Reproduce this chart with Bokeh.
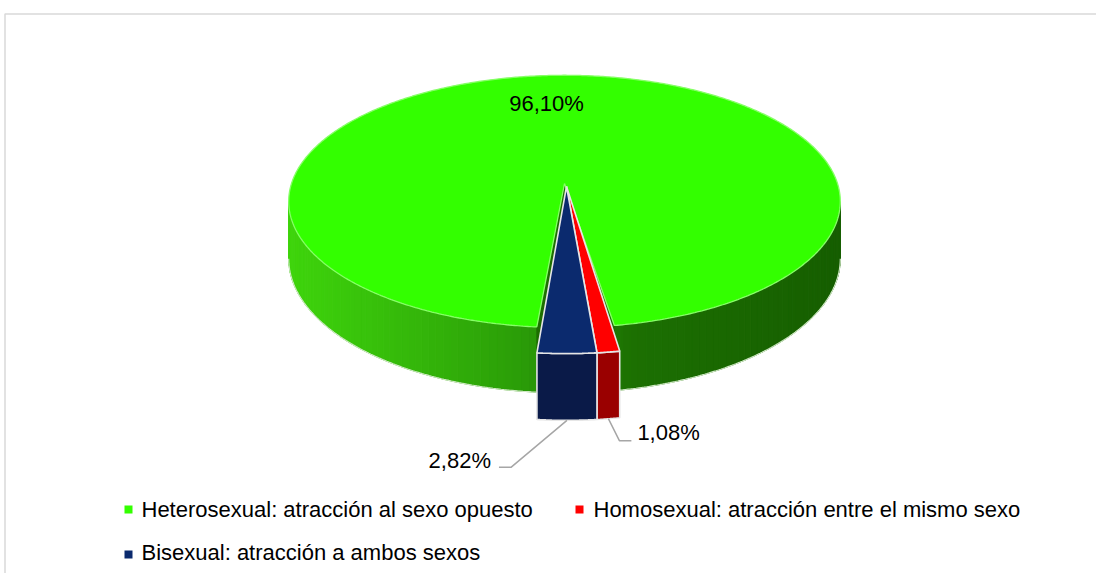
import numpy as np
from bokeh.plotting import figure
from bokeh.models import Range1d
from bokeh.core.properties import value
from bokeh.embed import file_html
from bokeh.resources import INLINE

# ---------------- data ----------------
categories = ["Heterosexual: atracción al sexo opuesto",
              "Homosexual: atracción entre el mismo sexo",
              "Bisexual: atracción a ambos sexos"]
values = [96.10, 1.08, 2.82]
labels = ["96,10%", "1,08%", "2,82%"]
top_colors = ["#33ff00", "#ff0000", "#0b2a6e"]
front_colors = ["#2a9a08", "#9a0000", "#0a1a48"]

FONT = "Liberation Sans"
FS = "22px"

# ---------------- figure ----------------
p = figure(width=1096, height=573, x_range=Range1d(0, 1096), y_range=Range1d(573, 0),
           output_backend="svg", toolbar_location=None, min_border=0)
p.axis.visible = False
p.grid.visible = False
p.outline_line_color = None
p.background_fill_color = "white"
p.border_fill_color = "white"

# chart area border
p.line(x=[4.5, 4.5, 1096], y=[573, 13.5, 13.5], line_color="#d9d9d9", line_width=1.5)

# ---------------- 3D pie projection ----------------
CX, CY = 564.0, 183.0
SX, SY = 273.0, 123.6
K = 0.142
DEPTH = 56.0
START = 185.0          # clockwise angle (deg, from 12 o'clock) where first slice starts
RHO, RHOX, EDX, EDY = 1.134, 0.92, 2.0, 3.0   # small-slice pull-out


def proj(r, th_deg, h, rho=1.0, rx=1.0, dx=0.0, dy=0.0):
    th = np.radians(th_deg)
    x = rho * r * np.sin(th)
    z = -rho * r * np.cos(th)
    s = 1.0 / (1.0 - K * z)
    return CX + SX * x * s * rx + dx, CY + (SY * z + DEPTH * h) * s + dy


def arc(a0, a1, h, **kw):
    n = max(2, int(abs(a1 - a0) / 0.5) + 1)
    th = np.linspace(a0, a1, n)
    return proj(1.0, th, h, **kw)


total = sum(values)
spans = [v / total * 360.0 for v in values]
starts = [START + sum(spans[:i]) for i in range(len(values))]
ends = [starts[i] + spans[i] for i in range(len(values))]

VIS0, VIS1 = 98.2, 261.8   # visible part of the outer wall


def side_color(t):
    stops = [(0.0, (62, 212, 12)), (0.40, (44, 160, 8)), (0.52, (36, 138, 6)),
             (0.62, (28, 112, 2)), (1.0, (22, 94, 0))]
    for (t0, c0), (t1, c1) in zip(stops[:-1], stops[1:]):
        if t <= t1:
            f = max(0.0, (t - t0) / (t1 - t0))
            c = [int(round(c0[j] + f * (c1[j] - c0[j]))) for j in range(3)]
            return "#%02x%02x%02x" % tuple(c)
    return "#%02x%02x%02x" % stops[-1][1]


# green outer wall (visible portions), shaded by position
g0 = starts[0] % 360
g1 = ends[0] % 360
segs = [(VIS0, min(g1, VIS1)), (max(g0, VIS0), VIS1)]
xs, ys, cols = [], [], []
for a0, a1 in segs:
    n = int((a1 - a0) / 1.5) + 1
    edges = np.linspace(a0, a1, n + 1)
    for b0, b1 in zip(edges[:-1], edges[1:]):
        tx, ty = arc(b0, b1, 0)
        bx, by = arc(b1, b0, 1)
        xs.append(list(tx) + list(bx))
        ys.append(list(ty) + list(by))
        mx, _ = proj(1.0, (b0 + b1) / 2, 0)
        cols.append(side_color((mx - (CX - SX)) / (2 * SX)))
p.patches(xs, ys, fill_color=cols, line_color=cols, line_width=1)
# lower rim
for a0, a1 in segs:
    bx, by = arc(a0, a1, 1)
    p.line(bx, by, line_color="#cfe8c4", line_width=1.2)

# green notch walls
for ang in (g0, g1):
    ex0, ey0 = proj(1.0, ang, 0)
    ex1, ey1 = proj(1.0, ang, 1)
    c0x, c0y = proj(0.0, ang, 0)
    c1x, c1y = proj(0.0, ang, 1)
    p.patch([c0x, ex0, ex1, c1x], [c0y, ey0, ey1, c1y], fill_color="#1d6e00", line_color="#1d6e00")

# green top face
tx, ty = arc(starts[0], ends[0], 0)
p.patch([CX] + list(tx), [CY] + list(ty), fill_color=top_colors[0],
        line_color="#86ff66", line_width=1.3)

# small pulled-out slices
kw = dict(rho=RHO, rx=RHOX, dx=EDX, dy=EDY)
for i in (1, 2):
    tx, ty = arc(starts[i], ends[i], 0, **kw)
    bx, by = arc(ends[i], starts[i], 1, **kw)
    p.patch(list(tx) + list(bx), list(ty) + list(by), fill_color=front_colors[i],
            line_color="#e6e6e6", line_width=1.6)
    ax, ay = proj(0.0, 0, 0, **kw)
    p.patch([ax] + list(tx), [ay] + list(ty), fill_color=top_colors[i],
            line_color="#e6e6e6", line_width=1.6)

# ---------------- data labels ----------------
text_kw = dict(text_font=value(FONT), text_font_size=FS, text_color="#000000",
               text_baseline="alphabetic")
p.text(x=[546], y=[102.5], text=[labels[0]], text_align="center", **text_kw)

# blue label with leader
mid_b = (starts[2] + ends[2]) / 2
bx0, by0 = proj(1.0, mid_b, 1, **kw)
p.line([bx0, bx0 - 56, bx0 - 68], [by0, by0 + 47, by0 + 47], line_color="#a6a6a6", line_width=1.5)
p.text(x=[bx0 - 76], y=[by0 + 40], text=[labels[2]], text_align="right", **text_kw)

# red label with leader
mid_r = (starts[1] + ends[1]) / 2
rx0, ry0 = proj(1.0, mid_r, 1, **kw)
p.line([rx0, rx0 + 11, rx0 + 23], [ry0, ry0 + 22, ry0 + 22], line_color="#a6a6a6", line_width=1.5)
p.text(x=[rx0 + 29], y=[ry0 + 14], text=[labels[1]], text_align="left", **text_kw)

# ---------------- legend ----------------
leg_sq_x = [128, 579, 128]
leg_sq_y = [509, 509, 554]
leg_tx = [141, 593, 141]
leg_ty = [508.5, 508.5, 552]
p.rect(x=leg_sq_x, y=leg_sq_y, width=8, height=8, fill_color=top_colors, line_color=None)
p.text(x=leg_tx, y=leg_ty, text=categories, text_align="left", **text_kw)

open("out.html", "w").write(file_html(p, INLINE))
